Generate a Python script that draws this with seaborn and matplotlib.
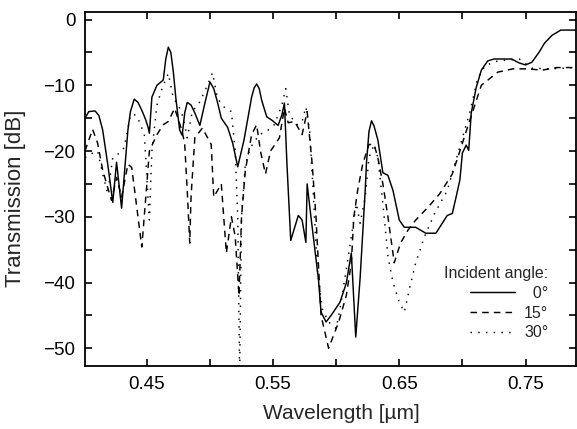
import matplotlib
matplotlib.use("Agg")
import matplotlib.pyplot as plt
from matplotlib.ticker import FixedLocator
import seaborn as sns
import pandas as pd

# ---- data ----
wl_0 = [0.401,0.404,0.409,0.412,0.415,0.419,0.423,0.426,0.430,0.435,
        0.437,0.440,0.443,0.446,0.449,0.451,0.452,0.454,0.458,0.463,
        0.465,0.467,0.469,0.471,0.473,0.476,0.478,0.480,0.482,0.485,
        0.488,0.492,0.496,0.500,0.503,0.506,0.509,0.514,0.518,0.522,
        0.527,0.533,0.535,0.537,0.539,0.541,0.545,0.549,0.554,0.557,
        0.559,0.561,0.564,0.570,0.573,0.576,0.577,0.580,0.586,0.588,
        0.592,0.596,0.603,0.608,0.612,0.6155,0.619,0.623,0.624,0.626,
        0.628,0.630,0.633,0.637,0.641,0.645,0.650,0.654,0.663,0.671,
        0.679,0.684,0.688,0.692,0.695,0.698,0.700,0.703,0.705,0.707,
        0.711,0.715,0.720,0.725,0.739,0.745,0.750,0.755,0.761,0.765,
        0.771,0.778,0.790]
t_0 = [-15.0,-14.0,-13.9,-14.6,-16.8,-22,-27.8,-21.7,-28.7,-16.8,
       -14.0,-12.1,-12.6,-13.8,-15.2,-16.4,-17.3,-11.8,-10.0,-9.2,
       -6.0,-4.2,-5.0,-8.0,-12.0,-16.8,-17.6,-14.2,-12.6,-13.0,
       -14.2,-16.1,-12.7,-9.5,-10.5,-12.6,-15.0,-16.4,-18.8,-22.4,
       -18.3,-11.8,-10.4,-9.8,-10.5,-12.3,-14.8,-15.3,-16.1,-14.5,
       -12.7,-22,-33.6,-29.8,-30.5,-33.9,-25.0,-30,-39.6,-44.5,
       -46.0,-45.0,-43.0,-40.1,-35.5,-48.3,-39.2,-26.0,-21.8,-17.0,
       -15.4,-16.2,-18.3,-23.3,-23.7,-26.0,-30.5,-31.6,-31.6,-32.5,
       -32.5,-31.0,-29.8,-29.5,-27.0,-24.4,-20.3,-19.1,-19.9,-14.2,
       -10.3,-7.7,-6.3,-6.0,-6.0,-6.6,-6.9,-6.5,-4.9,-3.6,
       -2.4,-1.6,-1.6]

wl_15 = [0.401,0.407,0.411,0.415,0.418,0.422,0.426,0.430,0.435,0.438,
         0.441,0.446,0.450,0.452,0.458,0.463,0.467,0.472,0.478,0.480,
         0.482,0.484,0.485,0.488,0.494,0.501,0.503,0.509,0.513,0.517,
         0.520,0.523,0.525,0.528,0.533,0.537,0.540,0.544,0.548,0.555,
         0.559,0.562,0.567,0.573,0.577,0.581,0.584,0.588,0.594,0.598,
         0.602,0.608,0.612,0.614,0.617,0.621,0.626,0.630,0.633,0.637,
         0.641,0.646,0.651,0.657,0.663,0.673,0.682,0.692,0.698,0.703,
         0.709,0.715,0.728,0.740,0.752,0.763,0.775,0.790]
t_15 = [-20,-16.7,-18.8,-22.9,-24.9,-27.5,-24,-27,-22,-22.5,
        -27,-34.6,-25,-20,-17.5,-16,-15.5,-13.5,-17,-19,
        -26,-34,-27,-18,-16.5,-19,-27,-25,-35.5,-30,
        -33,-42,-30,-23,-17.5,-16,-20,-23.5,-20,-18,
        -13.5,-15.7,-15.5,-17.5,-14,-22,-30,-45,-50,-48,
        -46,-42,-37,-30,-26,-22,-19,-19,-21,-25,
        -30,-37,-34,-32,-30.5,-28.5,-26.5,-23.5,-20,-17,
        -13.5,-10,-8,-7.5,-7.5,-7.7,-7.3,-7.3]

wl_30 = [0.401,0.405,0.411,0.415,0.419,0.423,0.427,0.432,0.437,0.441,
         0.444,0.448,0.450,0.452,0.454,0.458,0.462,0.467,0.471,0.475,
         0.479,0.482,0.486,0.492,0.498,0.502,0.506,0.512,0.517,0.520,
         0.522,0.5235,0.525,0.528,0.532,0.539,0.545,0.551,0.557,0.560,
         0.563,0.569,0.573,0.576,0.579,0.582,0.585,0.589,0.594,0.600,
         0.603,0.608,0.612,0.616,0.619,0.623,0.626,0.630,0.633,0.637,
         0.641,0.645,0.650,0.654,0.658,0.663,0.670,0.678,0.688,0.694,
         0.700,0.706,0.712,0.718,0.728,0.745,0.755,0.770,0.790]
t_30 = [-21,-20.5,-20,-23.5,-26.5,-21,-20.5,-19.5,-14.5,-14.5,
        -15.5,-17.5,-24,-30.5,-20,-13,-10.5,-8.2,-12,-13,
        -15,-18,-14,-12.5,-10,-8.1,-12,-13.5,-14,-20,
        -30,-54,-30,-22,-19.5,-17.5,-17,-16,-13,-10.5,
        -14.5,-16,-15.5,-13.3,-17,-27,-38,-44,-46,-47,
        -44,-38,-33,-28,-31,-27,-21,-19,-21,-28,
        -36,-40,-43,-44.5,-41,-37,-33,-29.5,-26,-22,
        -18,-14,-9,-7,-6.3,-6,-7.4,-7.5,-7.3]

angle_labels = ["\u20070°", "15°", "30°"]
legend_title = "Incident angle:"
x_ticks = [0.45, 0.55, 0.65, 0.75]
x_minor = [0.40, 0.50, 0.60, 0.70]
y_ticks = [0, -10, -20, -30, -40, -50]
y_minor = [-5, -15, -25, -35, -45]

# ---- style ----
sns.set_style("ticks")
plt.rcParams["font.family"] = ["Liberation Sans", "DejaVu Sans"]

fig = plt.figure(figsize=(5.77, 4.29), dpi=100)
ax = fig.add_axes([85 / 577, 63 / 429, 491 / 577, 354 / 429])

series = [(wl_0, t_0, None), (wl_15, t_15, (4.5, 3.5)), (wl_30, t_30, (1, 4.3))]
for (wl, t, dash), lab in zip(series, angle_labels):
    df = pd.DataFrame({"wl": wl, "t": t})
    sns.lineplot(data=df, x="wl", y="t", ax=ax, color="black", linewidth=1.05,
                 sort=False, estimator=None, label=lab)
    line = ax.lines[-1]
    if dash is not None:
        line.set_dashes(dash)

ax.set_xlim(0.401, 0.790)
ax.set_ylim(-52.7, 1.15)
ax.xaxis.set_major_locator(FixedLocator(x_ticks))
ax.xaxis.set_minor_locator(FixedLocator(x_minor))
ax.yaxis.set_major_locator(FixedLocator(y_ticks))
ax.yaxis.set_minor_locator(FixedLocator(y_minor))
ax.set_xticklabels([f"{v:.2f}" for v in x_ticks])
ax.set_yticklabels(["0" if v == 0 else f"\u2212{abs(v)}" for v in y_ticks])
ax.tick_params(which="both", direction="in", length=5, width=1.2,
               top=True, right=True, labelsize=13.5, pad=7, colors="black")
for s in ax.spines.values():
    s.set_linewidth(1.3)
    s.set_color("black")

ax.set_xlabel("Wavelength [µm]", fontsize=15)
ax.set_ylabel("Transmission [dB]", fontsize=16)
ax.xaxis.set_label_coords(0.522, -0.108)
ax.yaxis.set_label_coords(-0.121, 0.475)

leg = ax.legend(title=legend_title, loc="lower right", bbox_to_anchor=(0.96, 0.05),
                frameon=False, fontsize=11.5, title_fontsize=11.5, handlelength=2.8,
                handletextpad=0.6, labelspacing=0.3, borderpad=0, alignment="right")

fig.savefig("out.png", dpi=100)
